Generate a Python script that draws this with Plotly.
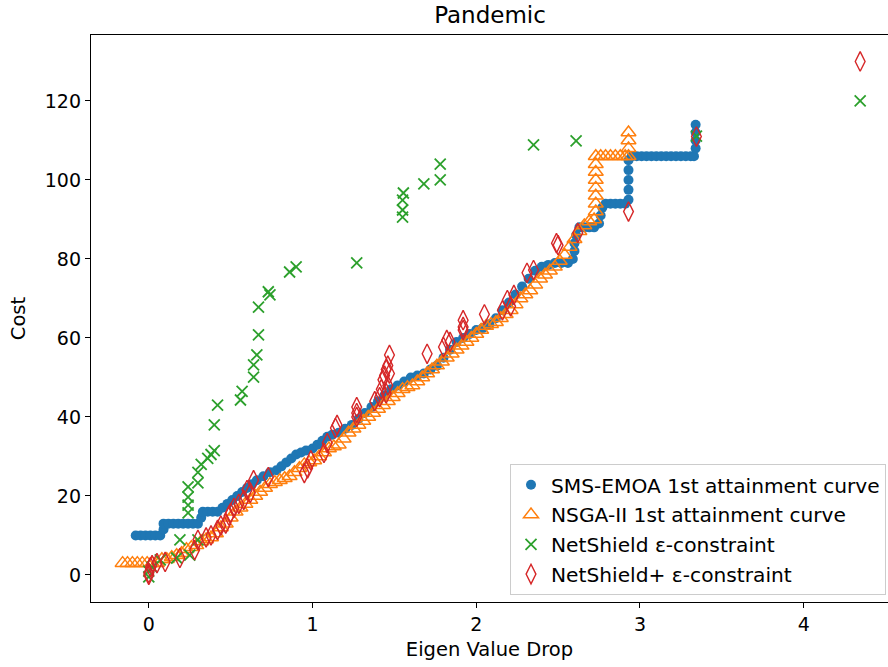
import plotly.graph_objects as go

# ---------------- data ----------------
sms_x = [-0.08, -0.05, -0.02, 0.01, 0.04, 0.07,
         0.09, 0.09, 0.12, 0.15, 0.18, 0.21, 0.24, 0.27, 0.30,
         0.32, 0.33, 0.36, 0.39, 0.42,
         0.45, 0.48, 0.51, 0.54, 0.57, 0.60, 0.63, 0.66, 0.70, 0.74, 0.78, 0.81, 0.84, 0.87, 0.90,
         0.93, 0.96, 1.00, 1.03, 1.06, 1.09, 1.12, 1.16, 1.20, 1.24, 1.28, 1.32, 1.36, 1.40, 1.44,
         1.48, 1.52, 1.56, 1.60, 1.64, 1.68, 1.72, 1.76, 1.80, 1.84, 1.88, 1.92, 1.96, 2.00, 2.04,
         2.08, 2.12, 2.16, 2.20, 2.24, 2.28, 2.32, 2.36, 2.40, 2.44, 2.48, 2.52, 2.56, 2.59,
         2.60, 2.60, 2.61, 2.63, 2.66, 2.69, 2.72, 2.75, 2.76, 2.77, 2.79, 2.82, 2.85, 2.88, 2.91,
         2.93, 2.93, 2.93, 2.93, 2.93, 2.95, 2.98, 3.01, 3.04, 3.07, 3.10, 3.13, 3.16, 3.19, 3.22,
         3.25, 3.28, 3.31, 3.33, 3.34, 3.34, 3.34, 3.34]
sms_y = [10, 10, 10, 10, 10, 10,
         11.5, 13, 13, 13, 13, 13, 13, 13, 13,
         14.5, 16, 16, 16, 16,
         17, 18, 19, 20, 21, 22, 23, 24, 25, 26, 26.5, 27.5, 28.5, 29.5, 30.5,
         31, 31.5, 32, 33, 34, 35, 35.5, 36, 37, 38, 39.5, 41, 42.5, 44, 45.5,
         47, 48, 49, 50, 50.5, 51, 52, 53, 55, 57, 59, 60, 61, 62, 62.5,
         63.5, 65, 67, 69, 71, 73, 75, 77, 78, 78.5, 79, 79, 79, 80,
         82, 84, 86, 88, 88, 88, 88, 89, 91, 93, 94, 94, 94, 94, 94,
         95, 97.5, 100, 102.5, 105, 106, 106, 106, 106, 106, 106, 106, 106, 106, 106,
         106, 106, 106, 106, 108, 110, 112, 114]

nsga_x = [-0.16, -0.13, -0.10, -0.07, -0.04, -0.01, 0.02, 0.05,
          0.08, 0.11, 0.14, 0.17, 0.20, 0.23, 0.26, 0.29, 0.32, 0.35, 0.38, 0.41, 0.44, 0.47,
          0.50, 0.53, 0.56, 0.59, 0.62, 0.65, 0.68, 0.71, 0.74, 0.77, 0.80, 0.83, 0.86, 0.89,
          0.92, 0.95, 0.98, 1.01, 1.04, 1.07, 1.10, 1.13, 1.16, 1.19, 1.22, 1.25, 1.28, 1.31,
          1.34, 1.37, 1.40, 1.43, 1.46, 1.49, 1.52, 1.55, 1.58, 1.61, 1.64, 1.67, 1.70, 1.73,
          1.76, 1.79, 1.82, 1.85, 1.88, 1.91, 1.94, 1.97, 2.00, 2.03, 2.06, 2.09, 2.12, 2.15,
          2.18, 2.21, 2.24, 2.27, 2.30, 2.33, 2.36, 2.39, 2.42, 2.45, 2.48, 2.51, 2.54, 2.57,
          2.60, 2.63, 2.66, 2.69, 2.72,
          2.73, 2.73, 2.73, 2.73, 2.73, 2.73, 2.73, 2.73,
          2.76, 2.79, 2.82, 2.85, 2.88, 2.91,
          2.93, 2.93, 2.93, 2.93]
nsga_y = [3, 3, 3, 3, 3, 3, 3, 3,
          4, 4, 4.5, 5, 5.5, 6.5, 7, 7.5, 8.5, 9, 9.5, 10.5, 12, 13,
          14.5, 16, 17, 18, 19, 20, 21, 22, 23, 23.5, 24, 24.5, 25, 26,
          27, 28, 28.5, 29, 30, 31, 32, 32.5, 33, 34.5, 36, 37, 38, 39,
          40, 41, 42, 43, 44, 45, 46, 47, 47.5, 48, 49, 50, 51, 52,
          53, 54, 55, 56, 57, 58, 59, 60, 61, 62, 63, 63.5, 64, 65,
          66, 67, 68.5, 70, 71, 72, 73.5, 75, 76, 77, 78, 79.5, 81, 83,
          85, 87, 88.5, 89.5, 90,
          92, 94, 96, 98, 100, 102, 104, 106,
          106, 106, 106, 106, 106, 106,
          106, 108, 110, 112]

ns_x = [0.00, 0.00, 0.02, 0.07, 0.17, 0.19, 0.25, 0.30, 0.24, 0.24, 0.24, 0.24, 0.30, 0.30,
        0.32, 0.36, 0.38, 0.40, 0.40, 0.42, 0.56, 0.57, 0.64, 0.64, 0.66, 0.67, 0.67, 0.74,
        0.73, 0.86, 0.90, 1.27, 1.55, 1.55, 1.55, 1.555, 1.68, 1.78, 1.78, 2.35, 2.61, 3.345,
        4.345]
ns_y = [-0.5, 1, 2, 3.8, 4.3, 8.9, 5, 8.9, 15.7, 17.7, 19.7, 22.3, 23.3, 26,
        28, 29.5, 30.5, 31.5, 38, 43, 44.3, 46.5, 50.1, 53.2, 55.7, 60.8, 67.8, 70.9,
        71.7, 76.7, 78, 79, 90.6, 92.4, 94.9, 96.7, 99, 100, 104, 108.9, 109.9, 111.1,
        120]

nsp_x = [0.00, 0.00, 0.01, 0.02, 0.05, 0.10, 0.19, 0.28, 0.30, 0.35, 0.38, 0.42, 0.44, 0.47,
         0.49, 0.50, 0.52, 0.55, 0.58, 0.60, 0.62, 0.64, 0.73, 0.95, 0.97, 0.99, 1.07, 1.09,
         1.14, 1.15, 1.27, 1.27, 1.27, 1.38, 1.41, 1.42, 1.43, 1.44, 1.45, 1.45, 1.46, 1.46,
         1.47, 1.47, 1.70, 1.80, 1.82, 1.84, 1.92, 1.92, 1.92, 2.05, 2.16, 2.19, 2.21, 2.23,
         2.31, 2.35, 2.49, 2.50, 2.62, 2.93, 3.345, 4.345]
nsp_y = [0, 0.5, 2, 2.5, 3, 3.3, 4.3, 6.3, 8.9, 9.5, 10, 11.4, 12.5, 13,
         15, 15.7, 17, 18, 19, 21.5, 20.8, 24, 24.8, 25.8, 27, 29, 30.9, 33.4,
         37.2, 38, 40, 41, 42.5, 44, 45, 47, 49.4, 50.5, 46, 52, 48, 53,
         51, 55.7, 56, 57.7, 59.5, 59, 62, 62.8, 64.5, 66, 67, 69.6, 68, 70.9,
         76.5, 77.2, 84, 83.5, 86.6, 92, 111, 130]

x_ticks = [0, 1, 2, 3, 4]
y_ticks = [0, 20, 40, 60, 80, 100, 120]

names = ["SMS-EMOA 1st attainment curve", "NSGA-II 1st attainment curve",
         "NetShield ε-constraint", "NetShield+ ε-constraint"]

# ---------------- figure ----------------
FONT = "DejaVu Sans"
fig = go.Figure()
fig.add_trace(go.Scatter(x=sms_x, y=sms_y, mode="markers", name=names[0], legendgroup="a",
                         marker=dict(symbol="circle", size=10, color="#1f77b4", line=dict(width=0))))
fig.add_trace(go.Scatter(x=nsga_x, y=nsga_y, mode="markers", name=names[1], legendgroup="b",
                         marker=dict(symbol="triangle-up-open", size=13, color="#ff7f0e",
                                     line=dict(width=1.5, color="#ff7f0e"))))
fig.add_trace(go.Scatter(x=ns_x, y=ns_y, mode="markers", name=names[2], legendgroup="c",
                         marker=dict(symbol="x-thin-open", size=11, color="#2ca02c",
                                     line=dict(width=1.8, color="#2ca02c"))))
fig.add_trace(go.Scatter(x=nsp_x, y=nsp_y, mode="markers", name=names[3], legendgroup="d",
                         marker=dict(symbol="diamond-tall-open", size=14, color="#d62728",
                                     line=dict(width=1.4, color="#d62728"))))

axis_common = dict(showgrid=False, zeroline=False, showline=True, linecolor="black", linewidth=1.3,
                   ticks="outside", ticklen=5, tickwidth=1.3, tickcolor="black",
                   tickfont=dict(family=FONT, size=19, color="black"))
fig.update_layout(
    width=888, height=667,
    margin=dict(l=91, r=0, t=35, b=65),
    paper_bgcolor="white", plot_bgcolor="white",
    title=dict(text="Pandemic", x=(91 + 889) / 2 / 888, xanchor="center", y=0.978, yanchor="middle",
               font=dict(family=FONT, size=23, color="black")),
    xaxis=dict(range=[-0.353, 4.515], tickvals=x_ticks, mirror=True,
               title=dict(text="Eigen Value Drop", font=dict(family=FONT, size=19.5, color="black"), standoff=8),
               **axis_common),
    yaxis=dict(range=[-6.84, 136.7], tickvals=y_ticks, mirror=False,
               title=dict(text="Cost", font=dict(family=FONT, size=19.5, color="black"), standoff=13),
               **axis_common),
    legend=dict(x=0.9975, y=0.012, xanchor="right", yanchor="bottom",
                bgcolor="rgba(255,255,255,0.8)", bordercolor="#cccccc", borderwidth=1,
                font=dict(family=FONT, size=20.2, color="black"), tracegroupgap=0.5,
                itemsizing="trace", entrywidth=360, entrywidthmode="pixels"),
    showlegend=True,
)

fig.write_html("out.html")
